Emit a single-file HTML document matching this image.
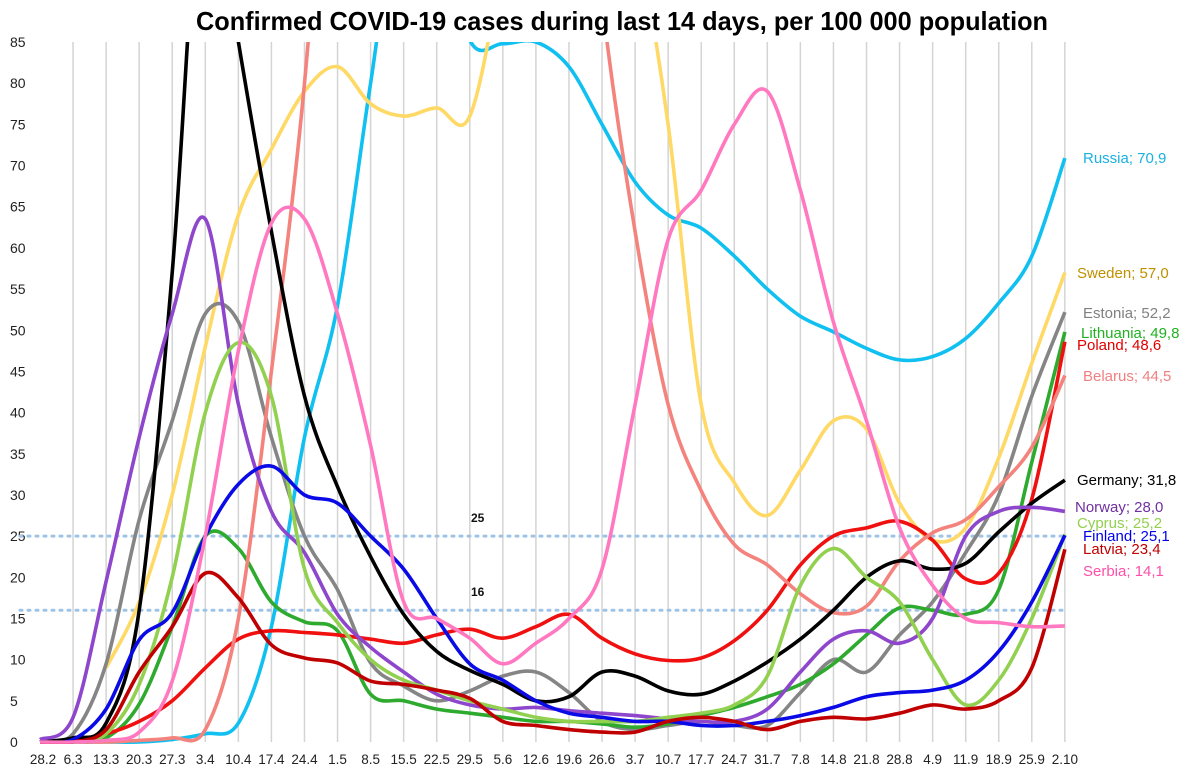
<!DOCTYPE html>
<html><head><meta charset="utf-8"><style>
body{margin:0;background:#fff;}
svg{display:block;font-family:"Liberation Sans",sans-serif;}
</style></head><body>
<svg id="chart" width="1200" height="772" viewBox="0 0 1200 772">
<defs><clipPath id="plotclip"><rect x="38" y="42" width="1032" height="702"/></clipPath></defs>
<text x="622" y="30" text-anchor="middle" font-size="26" font-weight="bold" textLength="852" lengthAdjust="spacingAndGlyphs">Confirmed COVID-19 cases during last 14 days, per 100 000 population</text>
<g id="grid"></g>
<g id="yaxis"></g>
<g id="xaxis"></g>
<g id="refs"></g>
<g id="series" clip-path="url(#plotclip)"></g>
<g id="labels"></g>
</svg>
<script>
const xLabels=["28.2","6.3","13.3","20.3","27.3","3.4","10.4","17.4","24.4","1.5","8.5","15.5","22.5","29.5","5.6","12.6","19.6","26.6","3.7","10.7","17.7","24.7","31.7","7.8","14.8","21.8","28.8","4.9","11.9","18.9","25.9","2.10"];
const yTicks=[0,5,10,15,20,25,30,35,40,45,50,55,60,65,70,75,80,85];
const refValues=[25,16];
const russia=[0,0,0,0,0.3,1,2.3,14,37,53,80,105,100,85.2,84.8,85,82,75,68,64,62.4,59,55,51.7,49.8,47.8,46.4,46.8,49,53.3,59,70.9];
const sweden=[null,null,9,17,30,48,64,72,79,82,77.5,76,77,76,95,120,125,120,100,75,41,31.5,27.5,33,39,38,29,24.5,26,34.5,46,57];
const estonia=[0,1,9.5,27,39,52,51,37,25,18.5,9.6,6.8,5,6.2,8,8.5,6,2.5,1.5,2,2.5,2,2,6,10,8.5,13,17,23,30,42,52.2];
const lithuania=[0,0,0.5,4.6,14,25,23.5,17,14.6,13.5,5.8,5,4,3.5,3,2.5,2.5,2.2,1.8,2.2,3.2,4.2,5.5,7,9.5,13,16.3,16,15.5,18.5,34,49.8];
const poland=[0,0.2,1,2.5,5,9,12.5,13.5,13.3,13,12.5,12,13,13.7,12.6,14,15.5,12.6,10.7,9.9,10.2,12.3,16,21.5,25,26,26.8,24.5,19.8,20.5,29.5,48.6];
const belarus=[0,0,0,0.2,0.5,1.5,15,45,80,130,170,190,200,200,190,170,130,90,62,41,30.5,24,21.5,18,15.7,16.5,22,25.4,27,31,35.8,44.5];
const germany=[0,0.5,2.3,16,57,110,85,62,42,31,22.5,15.5,11,8.7,7,5,5.5,8.5,8,6.2,5.8,7.4,9.7,12.5,16,20,22,21,21.7,25.5,29,31.8];
const norway=[0.3,3,19.5,37,52,63.5,41,28,23,15.5,11.5,8.5,5.8,4.5,4,4.2,3.8,3.5,3.2,2.8,2.5,2.5,4,8.5,12.5,13.5,12,15,25,28,28.5,28];
const cyprus=[0,0,1,7,20,40,48.5,42,21,14.5,10,7.5,6.3,5,4,3,2.5,2.5,2.5,3,3.5,4.5,8,19,23.5,20,17,10,4.5,7.5,15,25.2];
const finland=[0,0.3,4,12.4,15.7,25,31.3,33.5,30,29,25,21,15,9.5,7.5,5,3.5,3,2.5,2.5,2,2,2.5,3.2,4.2,5.5,6,6.3,7.5,11,17,25.1];
const latvia=[0,0,1.5,8.5,14,20.5,17.5,11.8,10.2,9.6,7.4,7,6.3,5.3,2.5,2,1.5,1.2,1.2,2.5,3,2.5,1.5,2.5,3,2.8,3.5,4.5,4,5,9,23.4];
const serbia=[0,0,0.2,1.2,7.4,25,47.5,63,63.5,52,36,17,15,12.6,9.5,12,15,21,41,61,67,75,79,67,51,39,26,19,15,14.5,14,14.1];
const seriesNames=["Russia","Sweden","Estonia","Lithuania","Poland","Belarus","Germany","Norway","Cyprus","Finland","Latvia","Serbia"];
const seriesData=[russia,sweden,estonia,lithuania,poland,belarus,germany,norway,cyprus,finland,latvia,serbia];
const labelValues=["70,9","57,0","52,2","49,8","48,6","44,5","31,8","28,0","25,2","25,1","23,4","14,1"];

const NS="http://www.w3.org/2000/svg";
const colors=["#10c0f0","#ffd966","#858585","#2eaa2e","#f01010","#f4837d","#000000","#8e46cc","#92d050","#0a0ae6","#c00000","#ff78c0"];
const labelColors=["#1ab0e0","#bf9000","#808080","#22b022","#e00000","#f08080","#000000","#7030a0","#92d050","#0000ee","#c00000","#ff4fa8"];
const labelY=[158,273,313,333,345,376,480,507,523,536,549,571];
const labelX=[1083,1077,1083,1081,1077,1083,1077,1075,1077,1083,1083,1083];
function xs(i){return 40+i*33.06;}
function ys(v){return 742-v*8.235;}
function mk(tag,attrs,parent){const e=document.createElementNS(NS,tag);for(const k in attrs)e.setAttribute(k,attrs[k]);parent.appendChild(e);return e;}
const grid=document.getElementById('grid'),yax=document.getElementById('yaxis'),xax=document.getElementById('xaxis'),refs=document.getElementById('refs'),ser=document.getElementById('series'),lab=document.getElementById('labels');
xLabels.forEach((l,i)=>{
  if(i>0){const g=mk('line',{x1:xs(i),x2:xs(i),y1:42,y2:742,stroke:'#d4d4d4','stroke-width':1.5},grid);
  
  }
  const t=mk('text',{x:xs(i)+(i==0?3:0),y:764,'text-anchor':'middle','font-size':13.5,fill:'#222'},xax);
  t.textContent=l;
  
  
});
yTicks.forEach(v=>{
  const t=mk('text',{x:10,y:ys(v)+5,'font-size':14,fill:'#222'},yax);
  t.textContent=v;
  
  
});
refValues.forEach(v=>{
  const l=mk('line',{x1:20,x2:1068,y1:ys(v),y2:ys(v),stroke:'#9dc3e6','stroke-width':3,'stroke-dasharray':'2 6','stroke-linecap':'round'},refs);
  
  
  const t=mk('text',{x:471,y:ys(v)-14,'font-size':12,'font-weight':'bold',fill:'#111'},refs);
  t.textContent=v;
  
  
});
function pathFor(arr){
  const pts=[];arr.forEach((v,i)=>{if(v!==null)pts.push([xs(i),ys(v)]);});
  let d='M'+pts[0][0]+','+pts[0][1];
  for(let i=0;i<pts.length-1;i++){
    const p0=pts[Math.max(0,i-1)],p1=pts[i],p2=pts[i+1],p3=pts[Math.min(pts.length-1,i+2)];
    const c1=[p1[0]+(p2[0]-p0[0])/6,p1[1]+(p2[1]-p0[1])/6];
    const c2=[p2[0]-(p3[0]-p1[0])/6,p2[1]-(p3[1]-p1[1])/6];
    d+=' C'+c1[0].toFixed(1)+','+c1[1].toFixed(1)+' '+c2[0].toFixed(1)+','+c2[1].toFixed(1)+' '+p2[0].toFixed(1)+','+p2[1].toFixed(1);
  }
  return d;
}
seriesData.forEach((arr,k)=>{
  const p=mk('path',{d:pathFor(arr),fill:'none',stroke:colors[k],'stroke-width':3.6,'stroke-linejoin':'round'},ser);
  
  
  const t=mk('text',{x:labelX[k],y:labelY[k]+5,'font-size':15,fill:labelColors[k]},lab);
  t.textContent=seriesNames[k]+(k==0||k==11?';  ':'; ')+labelValues[k];
  
  
});
</script>
</body></html>
